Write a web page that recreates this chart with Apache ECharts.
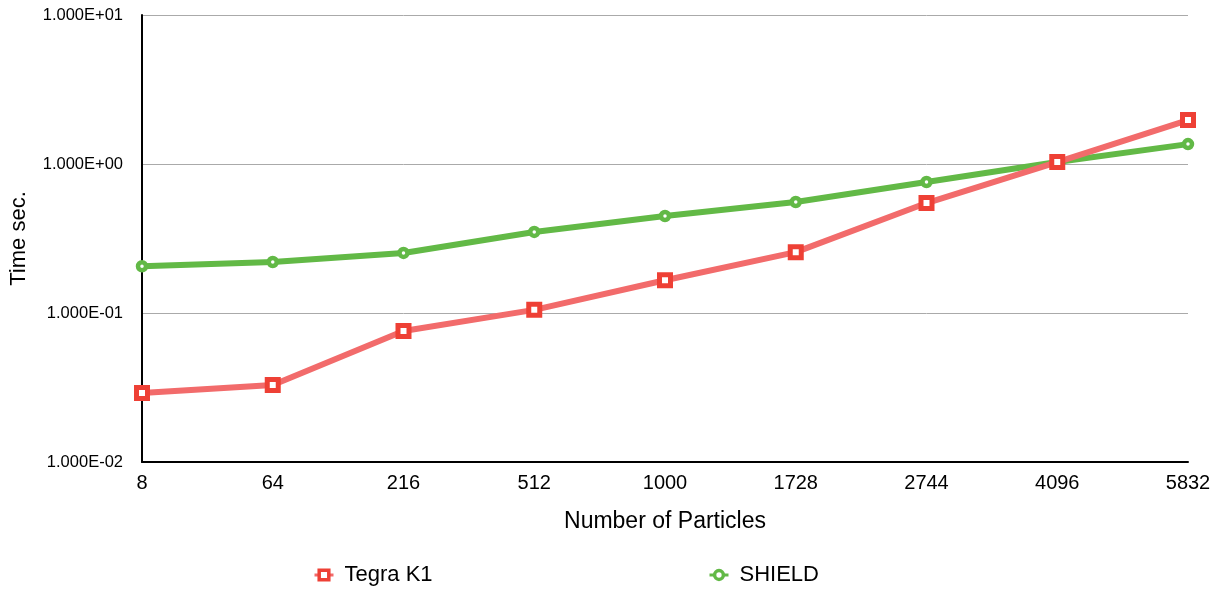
<!DOCTYPE html>
<html>
<head>
<meta charset="utf-8">
<script src="https://cdn.jsdelivr.net/npm/echarts@6/dist/echarts.min.js"></script>
<style>
  html, body { margin: 0; padding: 0; background: #fff; }
  #chart { width: 1219px; height: 590px; }
</style>
</head>
<body>
<div id="chart"></div>
<script>
// Particle counts on the x axis
const particles = ['8', '64', '216', '512', '1000', '1728', '2744', '4096', '5832'];
// Run time in seconds per device
const tegraK1 = [0.029, 0.0329, 0.0757, 0.105, 0.166, 0.256, 0.547, 1.03, 1.97];
const shield = [0.206, 0.220, 0.253, 0.350, 0.448, 0.556, 0.757, 1.03, 1.36];

const FONT = '"Liberation Sans", Arial, Helvetica, sans-serif';
const RED_LINE = '#f26b6b';
const RED_MARK = '#ee4035';
const GREEN = '#62b946';

// Format ticks like 1.000E-02
function sci(v) {
  const e = Math.round(Math.log10(v));
  const m = v / Math.pow(10, e);
  const sign = e < 0 ? '-' : '+';
  const ae = Math.abs(e);
  return m.toFixed(3) + 'E' + sign + (ae < 10 ? '0' + ae : ae);
}

const legendText = { fontFamily: FONT, fontSize: 22, color: '#000', padding: [0, 0, 0, 6] };

const chart = echarts.init(document.getElementById('chart'), null, { renderer: 'canvas' });
chart.setOption({
  animation: false,
  backgroundColor: '#ffffff',
  textStyle: { fontFamily: FONT },
  grid: { left: 142, right: 31, top: 15, bottom: 128, containLabel: false, outerBoundsMode: 'none' },
  legend: [
    {
      data: [{ name: 'Tegra K1' }],
      left: 308, top: 559,
      itemWidth: 19, itemHeight: 12,
      itemStyle: { borderWidth: 3.5 },
      lineStyle: { width: 3 },
      textStyle: legendText
    },
    {
      data: [{ name: 'SHIELD' }],
      left: 703, top: 559,
      itemWidth: 19, itemHeight: 11,
      itemStyle: { borderWidth: 3.5 },
      lineStyle: { width: 3 },
      textStyle: legendText
    }
  ],
  xAxis: {
    type: 'category',
    data: particles,
    boundaryGap: false,
    name: 'Number of Particles',
    nameLocation: 'middle',
    nameGap: 48,
    nameTextStyle: { fontFamily: FONT, fontSize: 23, color: '#000' },
    axisLine: { lineStyle: { color: '#000', width: 2 } },
    axisTick: { show: false },
    axisLabel: { fontFamily: FONT, fontSize: 20, color: '#000', margin: 11 },
    splitLine: { show: false }
  },
  yAxis: {
    type: 'log',
    logBase: 10,
    min: 0.01,
    max: 10,
    name: 'Time sec.',
    nameLocation: 'middle',
    nameRotate: 90,
    nameGap: 112,
    nameTextStyle: { fontFamily: FONT, fontSize: 22, color: '#000' },
    axisLine: { show: true, lineStyle: { color: '#000', width: 2 } },
    axisTick: { show: false },
    axisLabel: { fontFamily: FONT, fontSize: 16.5, color: '#000', margin: 19, formatter: sci },
    splitLine: { show: true, lineStyle: { color: '#aaaaaa', width: 1 } }
  },
  series: [
    {
      name: 'Tegra K1',
      type: 'line',
      data: tegraK1,
      symbol: 'rect',
      symbolSize: 11,
      z: 3,
      lineStyle: { color: RED_LINE, width: 6 },
      itemStyle: { color: '#fff', borderColor: RED_MARK, borderWidth: 5 }
    },
    {
      name: 'SHIELD',
      type: 'line',
      data: shield,
      symbol: 'circle',
      symbolSize: 8,
      z: 2,
      lineStyle: { color: GREEN, width: 6 },
      itemStyle: { color: '#fff', borderColor: GREEN, borderWidth: 4.5 }
    }
  ]
});
</script>
</body>
</html>
